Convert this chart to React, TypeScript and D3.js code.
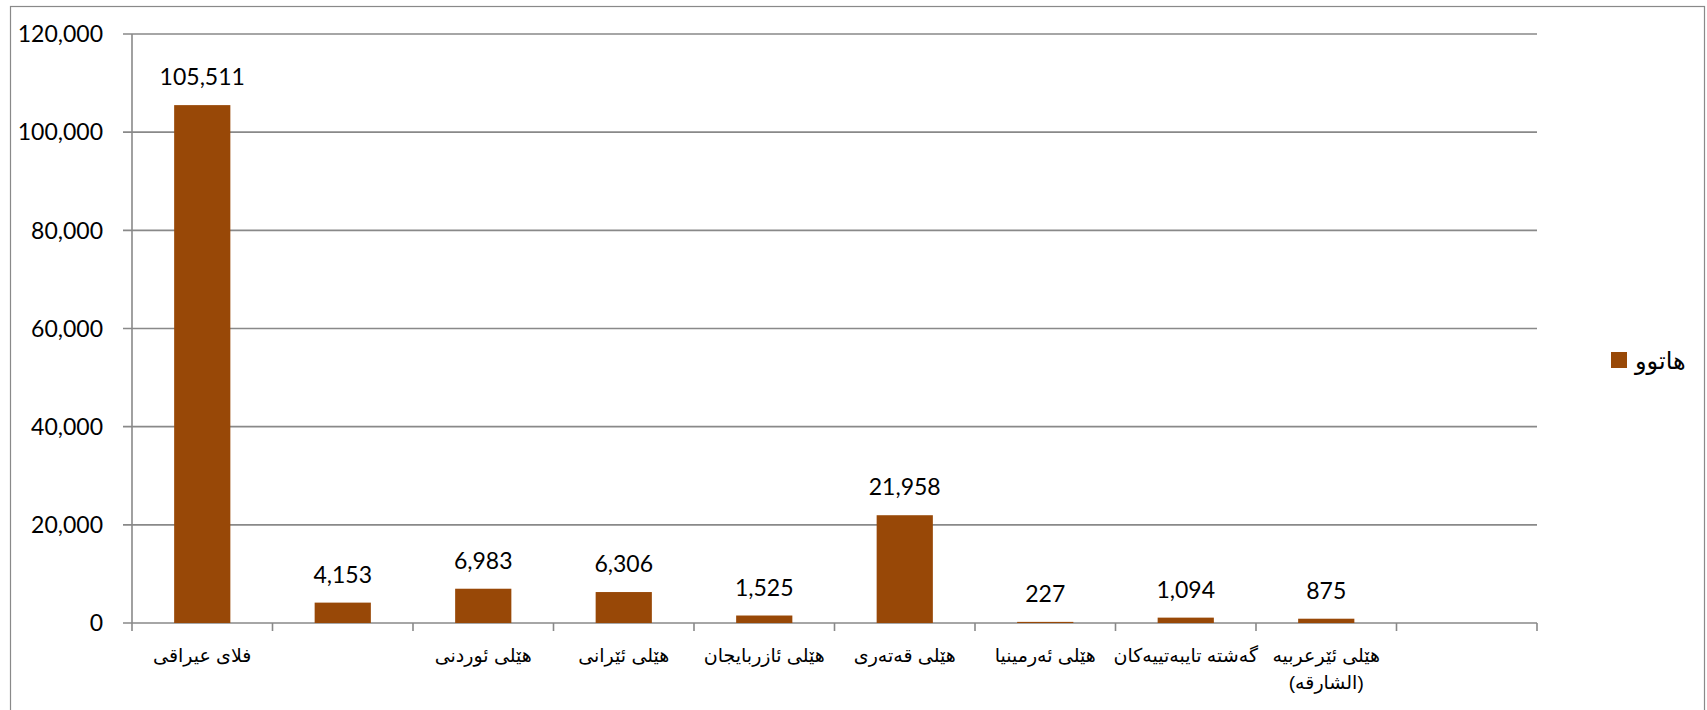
import React from "react";
import * as d3 from "d3";

const categories: string[][] = [
  ["فلای عیراقی"],
  [""],
  ["هێلی ئوردنی"],
  ["هێلی ئێرانی"],
  ["هێلی ئازربایجان"],
  ["هێلی قەتەری"],
  ["هێلی ئەرمینیا"],
  ["گەشتە تایبەتییەکان"],
  ["هێلی ئێرعربیه", "(الشارقه)"],
  [""],
];
const values: (number | null)[] = [105511, 4153, 6983, 6306, 1525, 21958, 227, 1094, 875, null];
const yTicks: number[] = [0, 20000, 40000, 60000, 80000, 100000, 120000];
const seriesName = "هاتوو";

const W = 1707;
const H = 710;
const M = { left: 132, right: 1537, top: 34, bottom: 623 };
const BAR = "#984807";
const GRID = "#898989";
const NUM_FONT = "Lato, 'Liberation Sans', sans-serif";
const AR_FONT = "'Liberation Sans', 'DejaVu Sans', sans-serif";

export default function App() {
  const x = d3
    .scaleBand<number>()
    .domain(categories.map((_, i) => i))
    .range([M.left, M.right])
    .padding(0);
  const y = d3.scaleLinear().domain([0, 120000]).range([M.bottom, M.top]);
  const bw = x.bandwidth();
  const barW = bw * 0.4;
  const fmt = d3.format(",");
  const boundaries = d3.range(categories.length + 1).map((i) => M.left + i * bw);

  return (
    <svg
      width={W}
      height={H}
      style={{ position: "absolute", left: 0, top: 0, background: "#fff" }}
    >
      <rect x={10.5} y={6.5} width={1694} height={720} fill="#fff" stroke={GRID} strokeWidth={1.2} />
      {yTicks.map((t) => (
        <line key={"g" + t} x1={M.left - 9} x2={M.right} y1={y(t)} y2={y(t)} stroke={GRID} strokeWidth={1.6} />
      ))}
      <line x1={M.left} x2={M.left} y1={M.top} y2={M.bottom} stroke={GRID} strokeWidth={1.6} />
      {boundaries.map((bx, i) => (
        <line key={"xt" + i} x1={bx} x2={bx} y1={M.bottom} y2={M.bottom + 8} stroke={GRID} strokeWidth={1.6} />
      ))}
      {yTicks.map((t) => (
        <text
          key={"yl" + t}
          x={M.left - 29}
          y={y(t)}
          dy="0.36em"
          textAnchor="end"
          fontFamily={NUM_FONT}
          fontSize={23}
          fill="#000"
        >
          {fmt(t)}
        </text>
      ))}
      {values.map((v, i) =>
        v == null ? null : (
          <rect
            key={"b" + i}
            x={(x(i) as number) + (bw - barW) / 2}
            y={y(v)}
            width={barW}
            height={y(0) - y(v)}
            fill={BAR}
          />
        )
      )}
      {values.map((v, i) =>
        v == null ? null : (
          <text
            key={"v" + i}
            x={(x(i) as number) + bw / 2}
            y={y(v) - 20}
            textAnchor="middle"
            fontFamily={NUM_FONT}
            fontSize={23}
            fill="#000"
          >
            {fmt(v)}
          </text>
        )
      )}
      {categories.map((lines, i) => (
        <text
          key={"c" + i}
          x={(x(i) as number) + bw / 2}
          textAnchor="middle"
          fontFamily={AR_FONT}
          fontSize={19}
          fill="#000"
        >
          {lines.map((ln, j) => (
            <tspan key={j} x={(x(i) as number) + bw / 2} y={662 + j * 27}>
              {ln}
            </tspan>
          ))}
        </text>
      ))}
      <rect x={1611} y={352} width={16} height={16} fill={BAR} />
      <text x={1635} y={360} dy="0.36em" textAnchor="start" fontFamily={AR_FONT} fontSize={24} fill="#000">
        {seriesName}
      </text>
    </svg>
  );
}
